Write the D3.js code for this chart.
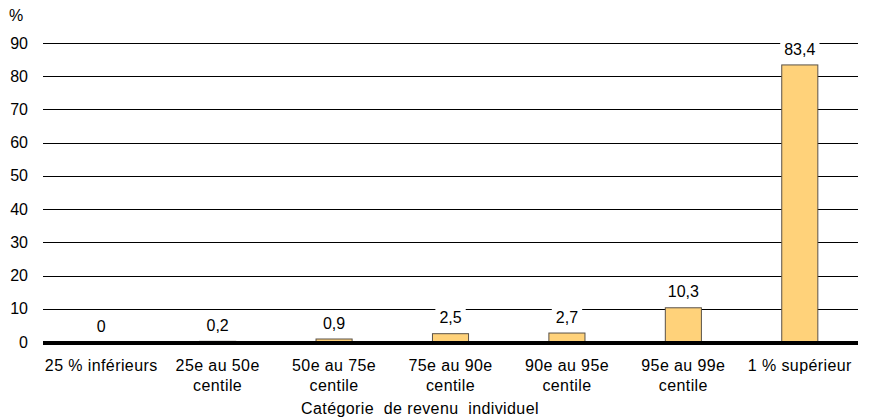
<!DOCTYPE html>
<html>
<head>
<meta charset="utf-8">
<script src="https://cdn.jsdelivr.net/npm/d3@7"></script>
<style>
  body { margin: 0; background: #fff; }
  text { font-family: "Liberation Sans", Arial, sans-serif; fill: #000; }
</style>
</head>
<body>
<div id="chart"></div>
<script>
const categories = [
  ["25 % inférieurs"],
  ["25e au 50e", "centile"],
  ["50e au 75e", "centile"],
  ["75e au 90e", "centile"],
  ["90e au 95e", "centile"],
  ["95e au 99e", "centile"],
  ["1 % supérieur"]
];
const values = [0, 0.2, 0.9, 2.5, 2.7, 10.3, 83.4];
const valueLabels = ["0", "0,2", "0,9", "2,5", "2,7", "10,3", "83,4"];
const yTicks = [0, 10, 20, 30, 40, 50, 60, 70, 80, 90];
const xTitle = "Catégorie de revenu individuel";

const width = 871, height = 418;
const margin = { top: 43, right: 13, bottom: 76, left: 43 };
const innerW = width - margin.left - margin.right,
      innerH = height - margin.top - margin.bottom;

const svg = d3.select("#chart")
  .append("svg")
  .attr("width", width)
  .attr("height", height);

const g = svg.append("g")
  .attr("transform", `translate(${margin.left}, ${margin.top})`);

const x = d3.scaleBand()
  .domain(d3.range(categories.length))
  .range([0, innerW])
  .paddingInner(0.69)
  .paddingOuter(0.345);

const y = d3.scaleLinear().domain([0, 90]).range([innerH, 0]);

// gridlines
g.selectAll(".grid")
  .data(yTicks.filter(d => d > 0))
  .enter()
  .append("line")
  .attr("class", "grid")
  .attr("x1", 0)
  .attr("x2", innerW)
  .attr("y1", d => Math.round(y(d)) + 0.5)
  .attr("y2", d => Math.round(y(d)) + 0.5)
  .attr("stroke", "#000")
  .attr("stroke-width", 1);

// y tick labels
g.selectAll(".ytick")
  .data(yTicks)
  .enter()
  .append("text")
  .attr("class", "ytick")
  .attr("x", -15)
  .attr("y", d => y(d))
  .attr("dy", "0.35em")
  .attr("text-anchor", "end")
  .attr("font-size", "16px")
  .text(d => d);

svg.append("text")
  .attr("x", 9)
  .attr("y", 21)
  .attr("font-size", "16px")
  .text("%");

// bars
g.selectAll(".bar")
  .data(values)
  .enter()
  .append("rect")
  .attr("class", "bar")
  .attr("x", (d, i) => x(i))
  .attr("width", x.bandwidth())
  .attr("y", d => y(d))
  .attr("height", d => innerH - y(d))
  .attr("fill", "#FFD27A")
  .attr("stroke", "#5a5248")
  .attr("stroke-width", 1);

// value labels with white background
const labels = g.selectAll(".vlabel")
  .data(values)
  .enter()
  .append("g")
  .attr("class", "vlabel")
  .attr("transform", (d, i) => `translate(${x(i) + x.bandwidth() / 2}, ${y(d) - 16})`);

labels.append("text")
  .attr("text-anchor", "middle")
  .attr("dy", "0.35em")
  .attr("font-size", "16px")
  .text((d, i) => valueLabels[i]);

labels.each(function() {
  const t = d3.select(this).select("text");
  const bb = t.node().getBBox();
  d3.select(this).insert("rect", "text")
    .attr("x", bb.x - 4)
    .attr("y", bb.y - 1)
    .attr("width", bb.width + 8)
    .attr("height", bb.height + 2)
    .attr("fill", "#fff");
});

// zero axis line
g.append("line")
  .attr("x1", 0)
  .attr("x2", innerW)
  .attr("y1", y(0) + 1)
  .attr("y2", y(0) + 1)
  .attr("stroke", "#000")
  .attr("stroke-width", 4);

// x category labels
const xl = g.selectAll(".xlabel")
  .data(categories)
  .enter()
  .append("text")
  .attr("class", "xlabel")
  .attr("text-anchor", "middle")
  .attr("font-size", "16px")
  .attr("letter-spacing", "0.4px")
  .attr("transform", (d, i) => `translate(${x(i) + x.bandwidth() / 2}, ${innerH + 29})`);

xl.selectAll("tspan")
  .data(d => d)
  .enter()
  .append("tspan")
  .attr("x", 0)
  .attr("dy", (d, i) => i === 0 ? 0 : 20)
  .text(d => d);

svg.append("text")
  .attr("x", 420)
  .attr("y", 414)
  .attr("text-anchor", "middle")
  .attr("font-size", "16px")
  .attr("letter-spacing", "0.4px")
  .attr("xml:space", "preserve")
  .style("white-space", "pre")
  .text("Catégorie  de revenu  individuel");
</script>
</body>
</html>
